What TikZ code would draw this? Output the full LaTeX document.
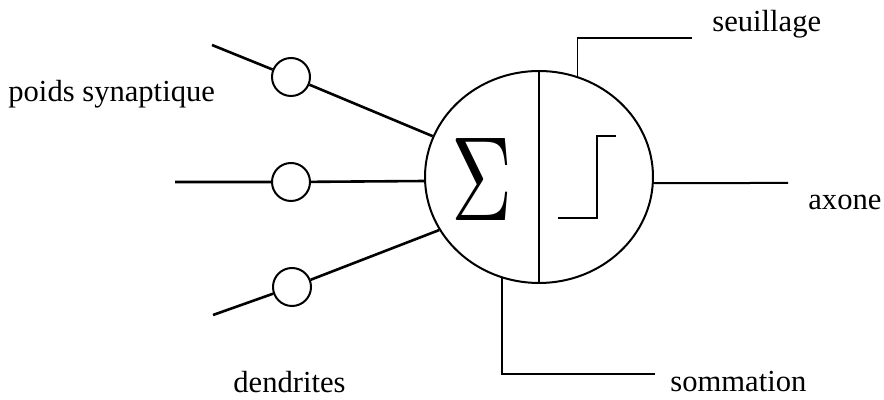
\documentclass[tikz,border=0pt]{standalone}
\usepackage{fontspec}
\setmainfont{Liberation Serif}
\usetikzlibrary{shapes.geometric}
\begin{document}
\begin{tikzpicture}[x=0.5pt,y=-0.5pt,
  dendrite/.style={line width=1.3pt},
  pointer/.style={line width=0.75pt},
  weight/.style={circle,draw,line width=1pt,minimum size=19pt,inner sep=0pt},
  txt/.style={anchor=base west,inner sep=0pt,font=\fontsize{15.3}{18}\selectfont}]
\useasboundingbox (0,0) rectangle (884,400);

% cell body
\node[ellipse,draw,line width=1pt,minimum width=114pt,minimum height=106pt,inner sep=0pt] (neuron) at (539,177) {};
\draw[line width=1pt] (neuron.north) -- (neuron.south);

% summation symbol
\node[inner sep=0pt] (sigma) at (482,179) {\resizebox{30.5pt}{41pt}{$\Sigma$}};

% threshold step
\draw[line width=1pt] (558,218) -- (597,218) -- (597,136) -- (616,136);

% synaptic weights
\node[weight] (w1) at (291,77) {};
\node[weight] (w2) at (291,182) {};
\node[weight] (w3) at (292,287) {};

\coordinate (d1) at (212,45);
\coordinate (d2) at (175,182);
\coordinate (d3) at (213,315);

\draw[dendrite] (d1) -- (w1) -- (neuron.159);
\draw[dendrite] (d2) -- (w2) -- (neuron.182.5);
\draw[dendrite] (d3) -- (w3) -- (neuron.208);

% axon
\coordinate (axend) at (788,183);
\draw[line width=1pt] (neuron.-3) -- (axend);

% leader lines
\coordinate (seuilend) at (692,38);
\coordinate (sommend) at (655,374);
\draw[pointer] (neuron.69) |- (seuilend);
\draw[pointer] (neuron.250) |- (sommend);

% labels
\node[txt] (lpoids) at (8,102) {poids synaptique};
\node[txt] (lseuil) at (712,32) {seuillage};
\node[txt] (laxone) at (808,210) {axone};
\node[txt] (lsomm) at (670,392) {sommation};
\node[txt] (ldend) at (233,393) {dendrites};
\end{tikzpicture}
\end{document}
